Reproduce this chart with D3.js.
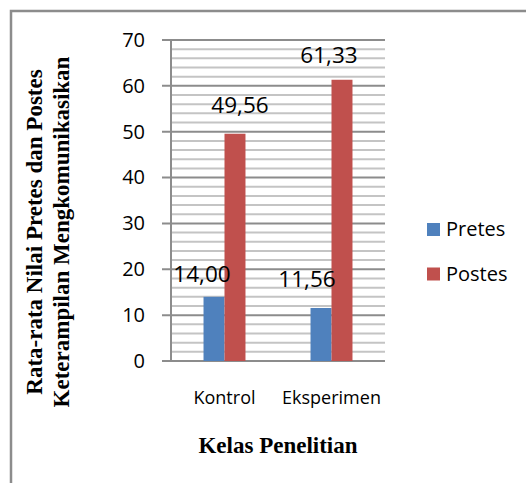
<!DOCTYPE html>
<html lang="id">
<head>
<meta charset="utf-8">
<script src="https://cdn.jsdelivr.net/npm/d3@7"></script>
<style>
    body { margin: 0; background: #fff; }
    svg { display: block; }
    .tick text { font-family: "Open Sans", sans-serif; }
    .title { font-family: "Liberation Serif", "Times New Roman", serif; font-weight: bold; }
</style>
</head>
<body>
<script>
    // DATA
    const categories = ["Kontrol", "Eksperimen"];
    const seriesNames = ["Pretes", "Postes"];
    const pretes = [14.00, 11.56];
    const postes = [49.56, 61.33];
    const valueLabels = {Pretes: ["14,00", "11,56"], Postes: ["49,56", "61,33"]};
    const yTicks = [0, 10, 20, 30, 40, 50, 60, 70];

    const colors = {Pretes: "#4f81bd", Postes: "#c0504d"};

    // label nudges (x, y) as in the original layout
    const labelNudge = {Pretes: [[-12, -15], [-14, -21]], Postes: [[5, -21], [-13, -17]]};

    const width = 526, height = 483;
    const plot = {left: 171, right: 385, top: 40, bottom: 361};

    const svg = d3.select("body").append("svg")
        .attr("width", width)
        .attr("height", height);

    // outer frame (cropped)
    svg.append("path")
        .attr("d", `M11,${height} V11 H${width}`)
        .attr("fill", "none")
        .attr("stroke", "#8c8c8c")
        .attr("stroke-width", 2.5);

    const x = d3.scaleBand().domain(categories)
        .range([plot.left, plot.right]);
    const y = d3.scaleLinear().domain([0, 70])
        .range([plot.bottom, plot.top]);

    // minor grid
    const minor = d3.range(0, 71, 2).filter(v => v % 10 !== 0);
    svg.append("g").selectAll("line")
        .data(minor)
        .join("line")
        .attr("x1", plot.left).attr("x2", plot.right)
        .attr("y1", d => y(d)).attr("y2", d => y(d))
        .attr("stroke", "#c4c4c4")
        .attr("stroke-width", 2);

    // major grid + ticks
    svg.append("g").selectAll("line")
        .data(yTicks)
        .join("line")
        .attr("x1", plot.left - 9).attr("x2", plot.right)
        .attr("y1", d => y(d)).attr("y2", d => y(d))
        .attr("stroke", "#8c8c8c")
        .attr("stroke-width", 2);

    // y axis line
    svg.append("line")
        .attr("x1", plot.left).attr("x2", plot.left)
        .attr("y1", plot.top).attr("y2", plot.bottom)
        .attr("stroke", "#8c8c8c")
        .attr("stroke-width", 2);

    // tick labels
    const yAxis = d3.axisLeft(y).tickValues(yTicks).tickSize(0).tickPadding(26);
    const gy = svg.append("g")
        .attr("transform", `translate(${plot.left},0)`)
        .call(yAxis);
    gy.select(".domain").remove();
    gy.selectAll("text").attr("font-size", 20).attr("fill", "#000");

    // bars
    const xs = d3.scaleBand().domain(seriesNames)
        .range([0, x.bandwidth()]).paddingInner(0).paddingOuter(1.55);
    const values = {Pretes: pretes, Postes: postes};

    const barLayer = svg.append("g");
    const labelLayer = svg.append("g");

    seriesNames.forEach(s => {
        barLayer.append("g").selectAll("rect")
            .data(categories)
            .join("rect")
            .attr("x", c => x(c) + xs(s))
            .attr("width", xs.bandwidth())
            .attr("y", (c, i) => y(values[s][i]))
            .attr("height", (c, i) => y(0) - y(values[s][i]))
            .attr("fill", colors[s]);
        labelLayer.append("g").selectAll("text")
            .data(categories)
            .join("text")
            .attr("x", (c, i) => x(c) + xs(s) + xs.bandwidth() / 2 + labelNudge[s][i][0])
            .attr("y", (c, i) => y(values[s][i]) + labelNudge[s][i][1])
            .attr("text-anchor", "middle")
            .attr("font-family", "Open Sans, sans-serif")
            .attr("font-size", 22.5)
            .text((c, i) => valueLabels[s][i]);
    });

    // category labels
    svg.append("g").selectAll("text")
        .data(categories)
        .join("text")
        .attr("x", c => x(c) + x.bandwidth() / 2)
        .attr("y", 404)
        .attr("text-anchor", "middle")
        .attr("font-family", "Open Sans, sans-serif")
        .attr("font-size", 18)
        .text(d => d);

    // legend
    const legend = svg.append("g").attr("transform", "translate(427,223)");
    legend.selectAll("rect")
        .data(seriesNames)
        .join("rect")
        .attr("x", 0)
        .attr("y", (d, i) => i * 44.5)
        .attr("width", 13).attr("height", 13)
        .attr("fill", d => colors[d]);
    legend.selectAll("text")
        .data(seriesNames)
        .join("text")
        .attr("x", 19)
        .attr("y", (d, i) => i * 44.5 + 13)
        .attr("font-family", "Open Sans, sans-serif")
        .attr("font-size", 20)
        .text(d => d);

    // axis titles
    svg.append("text")
        .attr("class", "title")
        .attr("x", 278).attr("y", 453)
        .attr("text-anchor", "middle")
        .attr("font-size", 23)
        .text("Kelas Penelitian");

    const yTitle = svg.append("text")
        .attr("class", "title")
        .attr("transform", "translate(0,232) rotate(-90)")
        .attr("text-anchor", "middle")
        .attr("font-size", 23);
    yTitle.append("tspan").attr("x", 0).attr("y", 42).text("Rata-rata Nilai Pretes dan Postes");
    yTitle.append("tspan").attr("x", 0).attr("y", 69).text("Keterampilan Mengkomunikasikan");
</script>
</body>
</html>
